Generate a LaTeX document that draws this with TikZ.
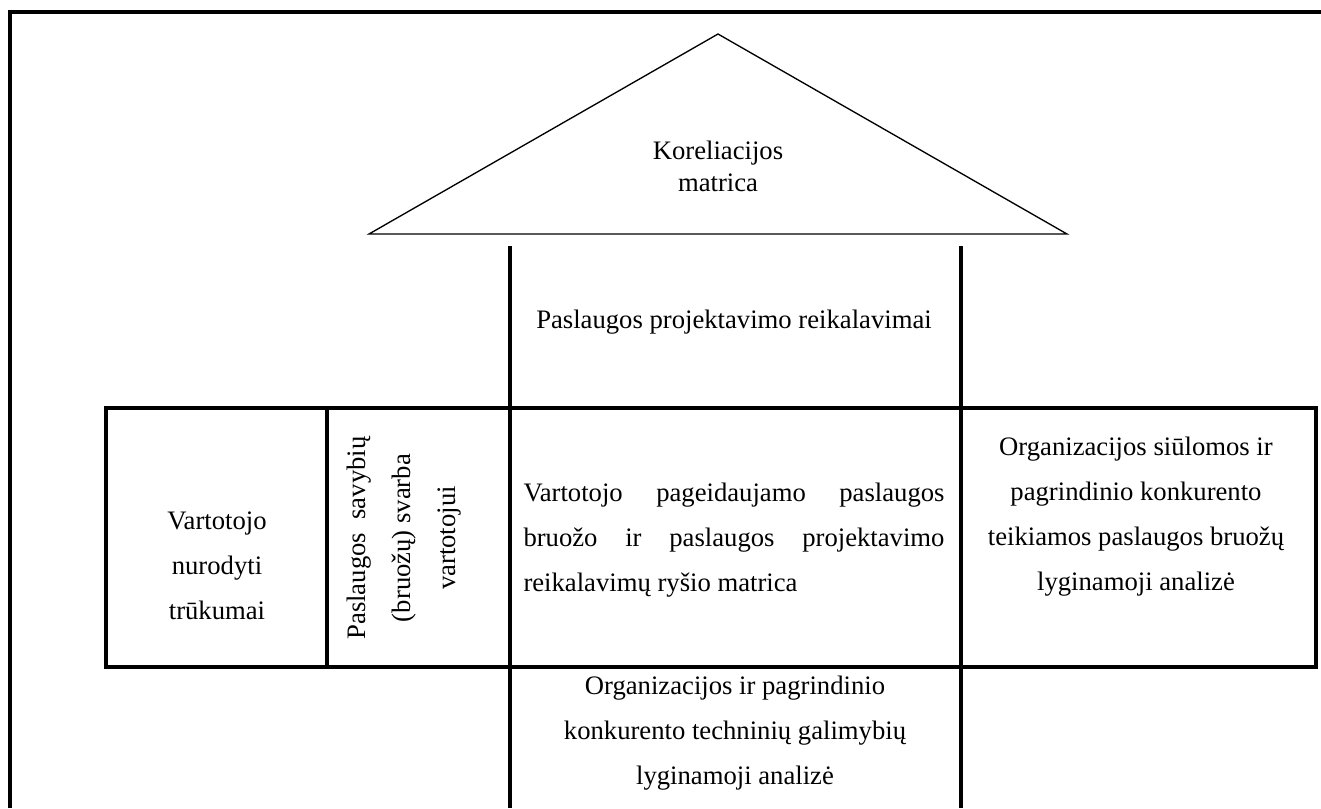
\documentclass[tikz,border=0pt]{standalone}
\usepackage{fontspec}
\setmainfont{Liberation Serif}
\begin{document}
\begin{tikzpicture}[x=0.75pt,y=-0.75pt,
  frame/.style={line width=3pt,line cap=butt},
  heavy/.style={line width=2.7pt,line cap=butt},
  roof/.style={line width=1pt,line join=miter},
  label/.style={inner sep=0pt,font={\fontsize{20}{33.75}\selectfont}},
  tight/.style={inner sep=0pt,font={\fontsize{20}{24}\selectfont}}]
\useasboundingbox (0,0) rectangle (1321,808);

% outer frame, only its top and left sides fall on the page
\draw[frame] (10,808) -- (10,12) -- (1321,12);

% roof: correlation matrix
\coordinate (apex) at (718,34);
\coordinate (roofL) at (369,234);
\coordinate (roofR) at (1067,234);
\draw[roof] (roofL) -- (apex) -- (roofR) -- cycle;
\node[tight,align=center] (corr) at (718,166) {Koreliacijos\\matrica};

% central columns
\coordinate (colLt) at (510,246);
\coordinate (colLb) at (510,808);
\coordinate (colRt) at (961,246);
\coordinate (colRb) at (961,808);
\draw[heavy] (colLt) -- (colLb);
\draw[heavy] (colRt) -- (colRb);

% main row of rooms
\coordinate (rowTL) at (106,408);
\coordinate (rowBR) at (1316,667);
\draw[heavy] (rowTL) rectangle (rowBR);
\coordinate (divT) at (327,408);
\coordinate (divB) at (327,667);
\draw[heavy] (divT) -- (divB);

% texts
\node[label,align=center] (design) at (734,322) {Paslaugos projektavimo reikalavimai};

\node[label,align=center] (defects) at (217,566) {Vartotojo\\nurodyti\\trūkumai};

\node[label,align=center,rotate=90] (weight) at (404,538)
  {\makebox[152.25pt][s]{Paslaugos savybių}\\(bruožų) svarba\\vartotojui};

\node[label,align=left] (relation) at (734,540)
  {\makebox[315.75pt][s]{Vartotojo pageidaujamo paslaugos}\\
   \makebox[315.75pt][s]{bruožo ir paslaugos projektavimo}\\
   reikalavimų ryšio matrica};

\node[label,align=center] (compare) at (1136,517)
  {Organizacijos siūlomos ir\\pagrindinio konkurento\\teikiamos paslaugos bruožų\\lyginamoji analizė};

\node[label,align=center] (technical) at (735,733)
  {Organizacijos ir pagrindinio\\konkurento techninių galimybių\\lyginamoji analizė};
\end{tikzpicture}
\end{document}
